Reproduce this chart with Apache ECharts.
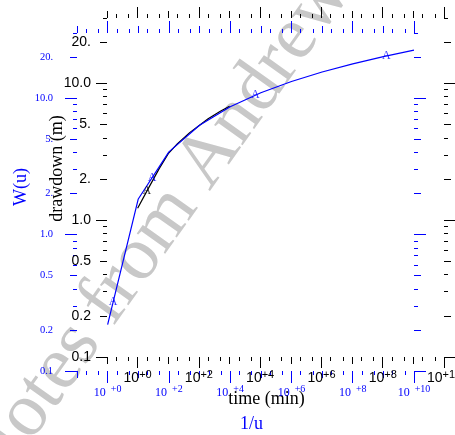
<!DOCTYPE html>
<html>
<head>
<meta charset="utf-8">
<script src="https://cdn.jsdelivr.net/npm/echarts@6/dist/echarts.min.js"></script>
<style>
  html, body { margin: 0; padding: 0; background: #fff; }
  #chart { width: 455px; height: 435px; }
</style>
</head>
<body>
<div id="chart"></div>
<script>
// Theis type curve W(u) vs 1/u (blue) and field drawdown vs time (black)
const invU = [1, 10, 100, 1e3, 1e4, 1e5, 1e6, 1e7, 1e8, 1e9, 1e10];
const wellFn = [0.219, 1.823, 4.038, 6.332, 8.633, 10.94, 13.24, 15.54, 17.84, 20.15, 22.45];
const time = [1, 2, 5, 10, 20, 50, 100, 200, 500, 1000];
const drawdown = [1.22, 1.63, 2.37, 3.06, 3.62, 4.36, 4.9, 5.5, 6.24, 6.8];

// "A" markers along the curves
const blueMarkU = [1.5, 28, 6.6e4, 1.26e9];
const blueMarkW = [0.32, 2.6, 10.5, 20.3];
const blackMarkT = [2];
const blackMarkS = [1.63];

// tick values / labels
const xEven = [1, 1e2, 1e4, 1e6, 1e8, 1e10];
const xOdd = [1e-1, 1e1, 1e3, 1e5, 1e7, 1e9];
const xLabelExp = ['+0', '+2', '+4', '+6', '+8', '+10'];
const yDecade = [0.1, 1, 10];
const yMid = [0.2, 0.5, 2, 5, 20];
const yLabelVals = [0.1, 0.2, 0.5, 1, 2, 5, 10, 20];
const yLabelText = ['0.1', '0.2', '0.5', '1.0', '2.', '5.', '10.0', '20.'];

const xMinor = [];
for (let e = -1; e < 10; e++) {
  xMinor.push(2 * Math.pow(10, e), 5 * Math.pow(10, e));
}
const yMinor = [];
[0.1, 1, 10].forEach(d => {
  [3, 4, 6, 7, 8, 9].forEach(m => yMinor.push(+(m * d).toFixed(2)));
});

const BLUE = '#0000ff';
const SANS = '"Liberation Sans", Arial, sans-serif';
const SERIF = '"Liberation Serif", "Times New Roman", serif';

const xAxes = [];
const yAxes = [];

function addAxis(list, gridIndex, position, min, max, ticks, len, color, extra) {
  list.push(Object.assign({
    type: 'log',
    logBase: 10,
    gridIndex: gridIndex,
    position: position,
    min: min,
    max: max,
    nameMoveOverlap: false,
    axisLine: { show: false },
    splitLine: { show: false },
    axisTick: { show: true, customValues: ticks, length: len, lineStyle: { color: color, width: 1 } },
    axisLabel: { show: false }
  }, extra || {}));
  return list.length - 1;
}

function expLabel(v) {
  const i = xEven.findIndex(x => Math.abs(Math.log10(x) - Math.log10(v)) < 1e-6);
  return i < 0 ? '' : '{b|10}{s|' + xLabelExp[i] + '}';
}
function yLabel(v) {
  const i = yLabelVals.findIndex(x => Math.abs(x - v) < 1e-9);
  return i < 0 ? '' : yLabelText[i];
}

function buildGrid(g, color, lens, style) {
  const bx = addAxis(xAxes, g, 'bottom', 0.1, 1e10, xMinor, lens[0], color, {
    name: style.xName,
    nameLocation: 'middle',
    nameGap: style.xNameGap,
    nameTextStyle: { fontFamily: SERIF, fontSize: 18, color: color, padding: style.xNamePad }
  });
  addAxis(xAxes, g, 'bottom', 0.1, 1e10, xOdd, lens[1], color);
  addAxis(xAxes, g, 'bottom', 0.1, 1e10, xEven, lens[2], color, {
    axisLabel: {
      show: true,
      customValues: xEven,
      margin: style.xLabelMargin,
      formatter: expLabel,
      rich: style.xRich
    }
  });
  addAxis(xAxes, g, 'top', 0.1, 1e10, xMinor, lens[0], color);
  addAxis(xAxes, g, 'top', 0.1, 1e10, xOdd, lens[1], color);
  addAxis(xAxes, g, 'top', 0.1, 1e10, xEven, lens[2], color);

  const ly = addAxis(yAxes, g, 'left', 0.1, 30, yMinor, lens[0], color, {
    name: style.yName,
    nameLocation: 'middle',
    nameRotate: 90,
    nameGap: style.yNameGap,
    nameTextStyle: { fontFamily: SERIF, fontSize: 18, color: color, padding: style.yNamePad },
    axisLabel: {
      show: true,
      customValues: yLabelVals,
      margin: style.yLabelMargin,
      formatter: yLabel,
      color: color,
      fontFamily: style.yFont,
      fontSize: style.yFontSize
    }
  });
  addAxis(yAxes, g, 'left', 0.1, 30, yMid, lens[1], color);
  addAxis(yAxes, g, 'left', 0.1, 30, yDecade, lens[2], color);
  addAxis(yAxes, g, 'right', 0.1, 30, yMinor, lens[0], color);
  addAxis(yAxes, g, 'right', 0.1, 30, yMid, lens[1], color);
  addAxis(yAxes, g, 'right', 0.1, 30, yDecade, lens[2], color);
  return [bx, ly];
}

// black axes: drawdown (m) vs time (min)
const blackIdx = buildGrid(0, '#000', [4, 7, 11], {
  xName: 'time (min)', xNameGap: 33, xNamePad: [0, 18, 0, 0],
  yName: 'drawdown (m)', yNameGap: 41, yNamePad: [0, 0, 0, 38],
  xLabelMargin: 12, yLabelMargin: 16, yFont: SANS, yFontSize: 14,
  xRich: {
    b: { fontFamily: SANS, fontSize: 14, color: '#000' },
    s: { fontFamily: SANS, fontSize: 11, color: '#000', padding: [0, 0, 7, 0] }
  }
});
// blue axes: W(u) vs 1/u
const blueIdx = buildGrid(1, BLUE, [4, 7, 12], {
  xName: '1/u', xNameGap: 44, xNamePad: [0, 0, 0, 12],
  yName: 'W(u)', yNameGap: 47, yNamePad: [0, 0, 0, 30],
  xLabelMargin: 13, yLabelMargin: 24, yFont: SERIF, yFontSize: 10.5,
  xRich: {
    b: { fontFamily: SERIF, fontSize: 12, color: BLUE },
    s: { fontFamily: SERIF, fontSize: 10, color: BLUE, padding: [0, 0, 7, 5] }
  }
});

const zip = (a, b) => a.map((v, i) => [v, b[i]]);

const chart = echarts.init(document.getElementById('chart'));
chart.setOption({
  animation: false,
  backgroundColor: '#fff',
  grid: [
    { left: 107, right: 11, top: 18, bottom: 78, containLabel: false, outerBoundsMode: 'none' },
    { left: 77, right: 41, top: 33, bottom: 64, containLabel: false, outerBoundsMode: 'none' }
  ],
  graphic: {
    elements: [{
      type: 'text',
      x: 159,
      y: 228,
      rotation: 54.5 * Math.PI / 180,
      z: -10,
      silent: true,
      style: {
        text: 'Notes from Andrew',
        fill: '#c8c8c8',
        font: '76px "Liberation Serif", serif',
        align: 'center',
        verticalAlign: 'middle'
      }
    }]
  },
  xAxis: xAxes,
  yAxis: yAxes,
  series: [
    {
      type: 'line',
      xAxisIndex: blueIdx[0],
      yAxisIndex: blueIdx[1],
      data: zip(invU, wellFn),
      showSymbol: false,
      lineStyle: { color: BLUE, width: 1.2 },
      z: 3
    },
    {
      type: 'line',
      xAxisIndex: blackIdx[0],
      yAxisIndex: blackIdx[1],
      data: zip(time, drawdown),
      showSymbol: false,
      lineStyle: { color: '#000', width: 1.2 },
      z: 2
    },
    {
      type: 'scatter',
      xAxisIndex: blueIdx[0],
      yAxisIndex: blueIdx[1],
      data: zip(blueMarkU, blueMarkW),
      symbolSize: 1,
      itemStyle: { color: 'transparent' },
      label: { show: true, position: 'inside', formatter: 'A', color: BLUE, fontFamily: SERIF, fontSize: 12 },
      z: 4
    },
    {
      type: 'scatter',
      xAxisIndex: blackIdx[0],
      yAxisIndex: blackIdx[1],
      data: zip(blackMarkT, blackMarkS),
      symbolSize: 1,
      itemStyle: { color: 'transparent' },
      label: { show: true, position: 'inside', formatter: 'A', color: '#000', fontFamily: SERIF, fontSize: 12 },
      z: 4
    }
  ]
});
</script>
</body>
</html>
